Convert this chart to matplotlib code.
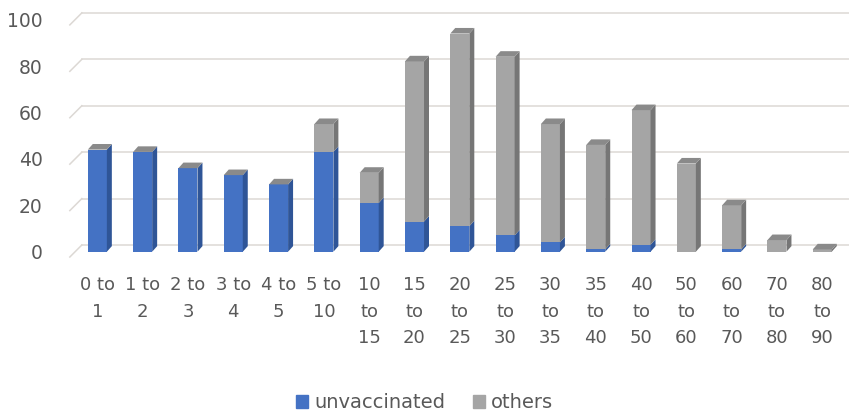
import matplotlib.pyplot as plt
from matplotlib.patches import Polygon, Patch

# age groups (years) and counts per group
groups = ['0 to\n1', '1 to\n2', '2 to\n3', '3 to\n4', '4 to\n5', '5 to\n10',
          '10\nto\n15', '15\nto\n20', '20\nto\n25', '25\nto\n30', '30\nto\n35',
          '35\nto\n40', '40\nto\n50', '50\nto\n60', '60\nto\n70', '70\nto\n80',
          '80\nto\n90']
unvaccinated = [44, 43, 36, 33, 29, 43, 21, 13, 11, 7, 4, 1, 3, 0, 1, 0, 0]
others = [0, 0, 0, 0, 0, 12, 13, 69, 83, 77, 51, 45, 58, 38, 19, 5, 1]
yticks = [0, 20, 40, 60, 80, 100]

blue, blue_side = '#4472C4', '#2F5597'
grey, grey_side, grey_top = '#A5A5A5', '#767676', '#8A8A8A'
text_col = '#595959'
grid_col = '#DCD8D4'

fig = plt.figure(figsize=(8.49, 4.11), dpi=100)
# axes box in pixels: x 62..849, y (from top) 8..261
ax = fig.add_axes([62/849, 150/411, 787/849, 253/411])
ax.set_xlim(-0.78, 16.59)
ax.set_ylim(-4, 105)

# fake 3d: bar depth and back-wall offset in data units
dx, dy = 0.11, 2.4
wall_x, wall_dy = -0.342, 2.89
floor_x, floor_dy = -0.607, -2.28

for v in yticks:
    ax.plot([wall_x, 16.59], [v + wall_dy] * 2, color=grid_col, lw=1.1, zorder=1)
    ax.plot([floor_x, wall_x], [v + floor_dy, v + wall_dy], color=grid_col, lw=1.1, zorder=1)

x = list(range(len(groups)))
w = 0.42
ax.bar(x, unvaccinated, width=w, color=blue, zorder=3)
ax.bar(x, others, width=w, bottom=unvaccinated, color=grey, zorder=3)

for i in x:
    b0, t0 = 0, unvaccinated[i]
    t1 = t0 + others[i]
    r = i + w / 2
    l = i - w / 2
    # side faces
    if t0 > 0:
        ax.add_patch(Polygon([(r, b0), (r + dx, b0 + dy), (r + dx, t0 + dy), (r, t0)],
                             closed=True, color=blue_side, zorder=3, lw=0))
    if others[i] > 0:
        ax.add_patch(Polygon([(r, t0), (r + dx, t0 + dy), (r + dx, t1 + dy), (r, t1)],
                             closed=True, color=grey_side, zorder=3, lw=0))
    # top face
    ax.add_patch(Polygon([(l, t1), (l + dx, t1 + dy), (r + dx, t1 + dy), (r, t1)],
                         closed=True, color=grey_top, zorder=3, lw=0))

for s in ax.spines.values():
    s.set_visible(False)
ax.set_yticks(yticks)
ax.set_yticklabels([str(v) for v in yticks], fontsize=13.5, color=text_col)
ax.set_xticks(x)
ax.set_xticklabels(groups, fontsize=13, color=text_col, linespacing=1.6)
ax.tick_params(axis='y', length=0, pad=14)
ax.tick_params(axis='x', length=0, pad=11)

handles = [Patch(color=blue), Patch(color=grey)]
fig.legend(handles, ['unvaccinated', 'others'], loc='lower center',
           bbox_to_anchor=(0.5, -0.045), ncol=2, frameon=False, fontsize=14,
           handlelength=0.65, handleheight=0.65, handletextpad=0.3,
           columnspacing=1.4, labelcolor=text_col)

fig.savefig('out.png', dpi=100)
